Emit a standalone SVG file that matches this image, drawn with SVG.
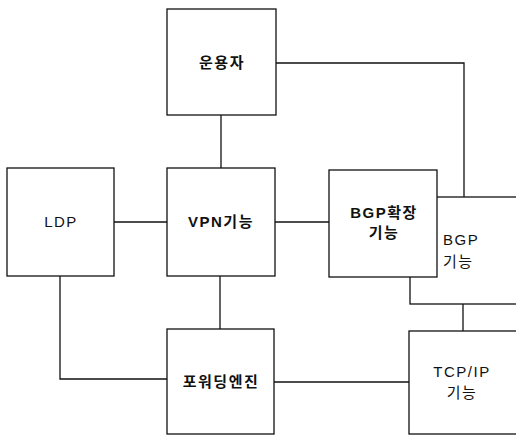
<svg xmlns="http://www.w3.org/2000/svg" width="516" height="435" viewBox="0 0 516 435">
<style>
.box{fill:#fff;stroke:#111;stroke-width:1.3}
.ln{fill:none;stroke:#111;stroke-width:1.3}
text{font-family:"Liberation Sans","Noto Sans CJK KR",sans-serif;font-size:15px;fill:#111;letter-spacing:1.5px}
.b{font-weight:bold}
.c{text-anchor:middle}
</style>
<rect width="516" height="435" fill="#fff"/>
<g id="connectors">
<path class="ln" d="M221,115 V168"/>
<path class="ln" d="M276,63 H464 V197"/>
<path class="ln" d="M114,222 H167"/>
<path class="ln" d="M275,222 H329"/>
<path class="ln" d="M60,276 V379 H167"/>
<path class="ln" d="M220,276 V329"/>
<path class="ln" d="M274,382 H409"/>
<path class="ln" d="M463,304 V331"/>
</g>
<g id="operator"><rect class="box" x="167" y="9" width="109" height="106"/><text class="b c" x="222" y="68">운용자</text></g>
<g id="ldp"><rect class="box" x="7" y="168" width="107" height="108"/><text class="c" x="61" y="227">LDP</text></g>
<g id="vpn"><rect class="box" x="167" y="168" width="108" height="108"/><text class="b c" x="221" y="227">VPN기능</text></g>
<g id="bgp"><rect class="box" x="410" y="197" width="120" height="107"/><text x="443" y="245">BGP</text><text x="443" y="267">기능</text></g>
<g id="bgpext"><rect class="box" x="329" y="170" width="108" height="107"/><text class="b c" x="384" y="218">BGP확장</text><text class="b c" x="384" y="238">기능</text></g>
<g id="forwarding"><rect class="box" x="167" y="329" width="107" height="105"/><text class="b c" x="221" y="387">포워딩엔진</text></g>
<g id="tcpip"><rect class="box" x="409" y="331" width="120" height="103"/><text class="c" x="462" y="377">TCP/IP</text><text class="c" x="462" y="398">기능</text></g>
</svg>
